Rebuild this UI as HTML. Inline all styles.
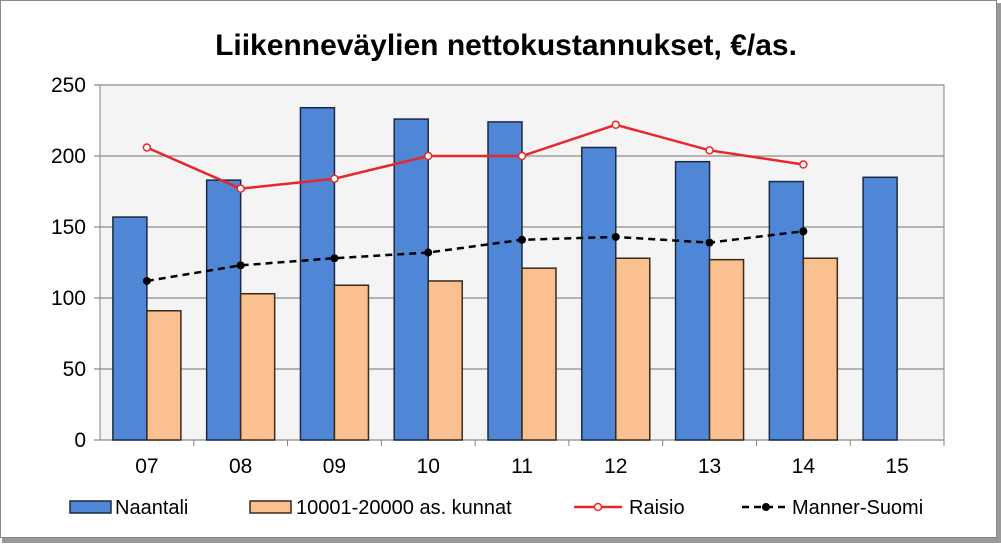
<!DOCTYPE html>
<html><head><meta charset="utf-8"><style>
body{margin:0;background:#fff;}
svg{display:block;font-family:"Liberation Sans",Arial,sans-serif;}
</style></head><body>
<svg width="1001" height="544" id="c">
<rect x="0.5" y="0.5" width="996" height="537" fill="#fff" stroke="#888"/>
<rect x="2" y="538" width="997" height="5" fill="#999"/>
<rect x="997" y="3" width="4" height="540" fill="#999"/>
<text x="506" y="55" text-anchor="middle" font-size="30" font-weight="bold" fill="#000">Liikenneväylien nettokustannukset, €/as.</text>
<g id="plot"></g>
<g id="legend"></g>
</svg>
<script>
const categories=["07","08","09","10","11","12","13","14","15"];
const naantali=[157,183,234,226,224,206,196,182,185];
const kunnat=[91,103,109,112,121,128,127,128,null];
const raisio=[206,177,184,200,200,222,204,194,null];
const mannerSuomi=[112,123,128,132,141,143,139,147,null];
const yTicks=[0,50,100,150,200,250];
const NS="http://www.w3.org/2000/svg";
const L=100,R=944,T=85,B=440,yMax=250;
const cw=(R-L)/categories.length;
const y=v=>B-(v/yMax)*(B-T);
const xc=i=>L+cw*(i+0.5);
const g=document.getElementById('plot');
function mk(tag,attrs,parent){const e=document.createElementNS(NS,tag);for(const k in attrs)e.setAttribute(k,attrs[k]);(parent||g).appendChild(e);return e;}
let e=mk('rect',{x:L,y:T,width:R-L,height:B-T,fill:'#f4f4f4',stroke:'#808080'});


yTicks.forEach(t=>{
 let l=mk('line',{x1:L-6,x2:R,y1:y(t),y2:y(t),stroke:'#8c8c8c','stroke-width':1.3});
 
 
 let tx=mk('text',{x:L-14,y:y(t)+7,'text-anchor':'end','font-size':21});
 tx.textContent=t;
 
 
});
e=mk('line',{x1:L,x2:L,y1:T,y2:B,stroke:'#808080'});


const bw=34;
categories.forEach((c,i)=>{
 let tk=mk('line',{x1:L+cw*(i+1),x2:L+cw*(i+1),y1:B,y2:B+6,stroke:'#808080'});
 
 
 let tx=mk('text',{x:xc(i),y:B+33,'text-anchor':'middle','font-size':21});
 tx.textContent=c;
 
 
 let b=mk('rect',{x:xc(i)-bw,y:y(naantali[i]),width:bw,height:B-y(naantali[i]),fill:'#4f86d6',stroke:'#1b2a44','stroke-width':1.5});
 
 
 if(kunnat[i]!=null){
  let b2=mk('rect',{x:xc(i),y:y(kunnat[i]),width:bw,height:B-y(kunnat[i]),fill:'#fac090',stroke:'#3a2a1a','stroke-width':1.5});
  
  
 }
});
function line(vals,color,dash,name,marker){
 const pts=vals.map((v,i)=>v==null?null:[xc(i),y(v)]).filter(p=>p);
 let p=mk('polyline',{points:pts.map(p=>p.join(',')).join(' '),fill:'none',stroke:color,'stroke-width':2.5,'stroke-dasharray':dash||''});
 
 
 pts.forEach(q=>{
  let m=mk('circle',marker==='open'?{cx:q[0],cy:q[1],r:3.5,fill:'#fff',stroke:color,'stroke-width':1.5}:{cx:q[0],cy:q[1],r:4,fill:color});
  
  
 });
}
line(raisio,'#e8272a','', 'raisio','open');
line(mannerSuomi,'#000','7,5','manner-suomi','filled');
const lg=document.getElementById('legend');
const ly=507;
function lt(x,t){let tx=mk('text',{x:x,y:ly+7,'font-size':20},lg);tx.textContent=t;}
e=mk('rect',{x:70,y:ly-6,width:41,height:12,fill:'#4f86d6',stroke:'#1b2a44','stroke-width':1.5},lg);


lt(115,'Naantali');
e=mk('rect',{x:250,y:ly-6,width:41,height:12,fill:'#fac090',stroke:'#3a2a1a','stroke-width':1.5},lg);


lt(296,'10001-20000 as. kunnat');
e=mk('line',{x1:574,x2:622,y1:ly,y2:ly,stroke:'#e8272a','stroke-width':2.5},lg);


e=mk('circle',{cx:598,cy:ly,r:3.5,fill:'#fff',stroke:'#e8272a','stroke-width':1.5},lg);


lt(629,'Raisio');
e=mk('line',{x1:742,x2:790,y1:ly,y2:ly,stroke:'#000','stroke-width':2.5,'stroke-dasharray':'7,5'},lg);


e=mk('circle',{cx:766,cy:ly,r:4,fill:'#000'},lg);


lt(792,'Manner-Suomi');
</script>
</body></html>
